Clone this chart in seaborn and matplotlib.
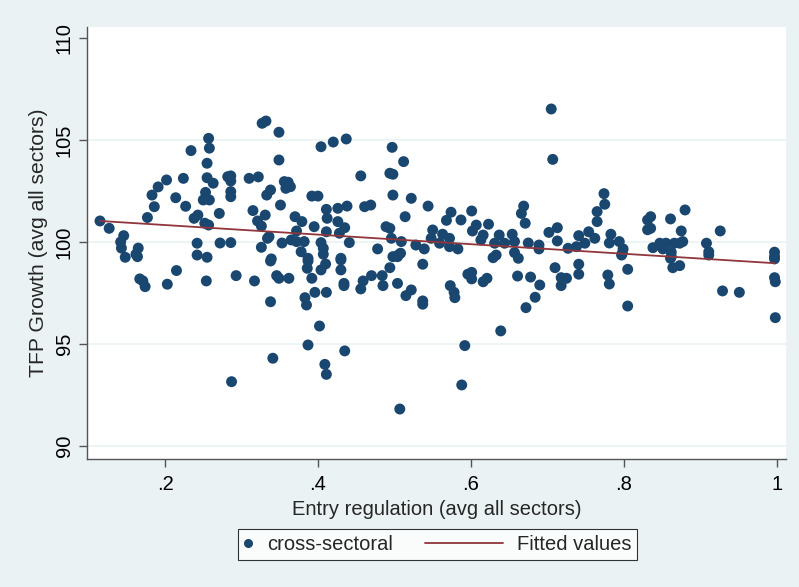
import matplotlib
matplotlib.use("Agg")
import matplotlib.pyplot as plt
import seaborn as sns
import pandas as pd
from matplotlib.lines import Line2D
from matplotlib.legend_handler import HandlerBase, HandlerLine2D

# ---- data ----
entry_reg = [
    0.115, 0.127, 0.146, 0.142, 0.143, 0.148, 0.165, 0.162, 0.177, 0.186, 0.183, 0.191, 0.202, 0.214,
    0.224, 0.227, 0.234, 0.238, 0.243, 0.250, 0.253, 0.255, 0.255, 0.258, 0.257, 0.263, 0.257, 0.252,
    0.271, 0.258, 0.242, 0.242, 0.255, 0.272, 0.282, 0.164, 0.167, 0.174, 0.171, 0.203, 0.215, 0.254,
    0.287,
    0.327, 0.332, 0.349, 0.404, 0.420, 0.437, 0.349, 0.286, 0.286, 0.286, 0.286, 0.310, 0.322, 0.333,
    0.338, 0.356, 0.361, 0.358, 0.364, 0.392, 0.400, 0.456, 0.351, 0.315, 0.331, 0.321, 0.326, 0.370,
    0.379, 0.395, 0.372, 0.411, 0.412, 0.426, 0.438, 0.426, 0.435, 0.411, 0.428, 0.461, 0.336, 0.334,
    0.365, 0.382, 0.372, 0.353, 0.404, 0.407, 0.441, 0.378, 0.326, 0.286, 0.339, 0.387, 0.407, 0.430,
    0.338, 0.293, 0.317, 0.346, 0.349, 0.362, 0.387, 0.386, 0.392, 0.404, 0.410, 0.430, 0.430, 0.434,
    0.434, 0.383, 0.385, 0.396, 0.411, 0.338, 0.459, 0.456, 0.402, 0.387, 0.341, 0.435, 0.409, 0.411,
    0.497, 0.512, 0.494, 0.498, 0.498, 0.522, 0.469, 0.544, 0.514, 0.574, 0.568, 0.587, 0.601, 0.489,
    0.494, 0.496, 0.509, 0.550, 0.548, 0.563, 0.572, 0.559, 0.572, 0.583, 0.528, 0.539, 0.478, 0.607,
    0.602, 0.623, 0.616, 0.613, 0.637, 0.631, 0.633, 0.505, 0.498, 0.508, 0.644,
    0.504, 0.537, 0.494, 0.470, 0.484, 0.485, 0.504, 0.522, 0.515, 0.537, 0.537, 0.573, 0.578, 0.579,
    0.596, 0.601, 0.601, 0.616, 0.621, 0.629, 0.639, 0.592, 0.588, 0.507,
    0.705, 0.707, 0.774, 0.775, 0.765, 0.765, 0.669, 0.666, 0.671, 0.654, 0.657, 0.675, 0.689, 0.689,
    0.657, 0.702, 0.713, 0.713, 0.727, 0.741, 0.749, 0.738, 0.754, 0.762, 0.783, 0.781, 0.794, 0.799,
    0.798, 0.831, 0.831,
    0.661, 0.678, 0.690, 0.684, 0.672, 0.710, 0.718, 0.725, 0.718, 0.741, 0.741, 0.779, 0.781, 0.805,
    0.805, 0.662, 0.797,
    0.880, 0.861, 0.835, 0.835, 0.875, 0.926, 0.877, 0.873, 0.847, 0.855, 0.866, 0.838, 0.851, 0.862,
    0.908, 0.911, 0.997, 0.997, 0.861,
    0.862, 0.864, 0.873, 0.911, 0.997, 0.997, 0.998, 0.929, 0.951, 0.998,
]
tfp_growth = [
    101.03, 100.67, 100.31, 100.00, 99.70, 99.25, 99.70, 99.40, 101.20, 101.73, 102.30, 102.70, 103.04, 102.17,
    103.12, 101.75, 104.48, 101.16, 101.32, 102.06, 102.43, 103.15, 103.86, 104.60, 105.08, 102.88, 100.83, 100.92,
    101.40, 102.06, 99.94, 99.36, 99.25, 99.95, 103.20, 99.28, 98.19, 97.81, 98.09, 97.93, 98.60, 98.09,
    93.15,
    105.82, 105.93, 105.38, 104.67, 104.90, 105.05, 104.02, 103.24, 102.99, 102.47, 102.22, 103.12, 103.19, 102.30,
    102.55, 102.96, 102.93, 102.63, 102.71, 102.25, 102.25, 103.24, 101.81, 101.54, 101.32, 101.03, 100.78, 101.24,
    101.00, 100.75, 100.54, 101.60, 101.16, 101.65, 101.76, 101.00, 100.70, 100.50, 100.43, 101.73, 100.26, 100.18,
    100.10, 100.02, 100.02, 99.95, 99.97, 99.69, 99.97, 99.52, 99.74, 99.97, 99.17, 99.20, 99.40, 99.20,
    99.07, 98.35, 98.09, 98.35, 98.22, 98.22, 99.07, 98.71, 98.22, 98.63, 98.92, 99.12, 98.63, 97.97,
    97.86, 97.27, 96.91, 97.53, 97.53, 97.07, 98.09, 97.70, 95.88, 94.95, 94.30, 94.66, 94.00, 93.51,
    104.64, 103.94, 103.37, 103.32, 102.30, 102.14, 101.81, 101.76, 101.24, 101.46, 101.06, 101.08, 101.52, 100.75,
    100.67, 100.18, 100.02, 100.59, 100.18, 100.38, 100.18, 99.94, 99.77, 99.66, 99.85, 99.66, 99.66, 100.83,
    100.54, 100.87, 100.34, 100.10, 100.34, 99.94, 99.36, 99.36, 99.28, 99.45, 99.94,
    99.28, 98.91, 98.74, 98.35, 98.35, 97.86, 97.97, 97.65, 97.37, 97.11, 96.95, 97.86, 97.53, 97.27,
    98.42, 98.51, 98.19, 98.05, 98.22, 99.23, 95.64, 94.92, 92.99, 91.81,
    106.52, 104.05, 102.37, 101.85, 101.49, 101.00, 101.76, 101.40, 100.92, 100.38, 100.02, 99.95, 99.85, 99.66,
    99.48, 100.47, 100.70, 100.05, 99.69, 100.31, 99.94, 99.77, 100.50, 100.18, 100.38, 99.95, 100.02, 99.66,
    99.45, 101.08, 100.60,
    98.33, 98.28, 97.89, 97.29, 96.78, 98.74, 98.25, 98.22, 97.86, 98.91, 98.42, 98.38, 97.94, 98.66,
    96.86, 99.20, 99.36,
    101.57, 101.13, 101.24, 100.67, 100.54, 100.54, 100.02, 99.94, 99.94, 99.94, 99.94, 99.72, 99.66, 99.50,
    99.94, 99.52, 99.50, 99.28, 99.20,
    99.28, 98.74, 98.84, 99.36, 99.17, 98.25, 98.05, 97.60, 97.53, 96.29,
]
fit_x = [0.115, 0.997]
fit_y = [101.03, 98.96]

x_ticks = [0.2, 0.4, 0.6, 0.8, 1.0]
x_tick_labels = [".2", ".4", ".6", ".8", "1"]
y_ticks = [90, 95, 100, 105, 110]
y_tick_labels = ["90", "95", "100", "105", "110"]

pts = pd.DataFrame({"x": entry_reg, "y": tfp_growth})
fit = pd.DataFrame({"x": fit_x, "y": fit_y})

# ---- styling ----
sns.set_theme(style="white")
plt.rcParams["font.family"] = ["Liberation Sans", "DejaVu Sans"]

BG = "#EAF2F3"
NAVY = "#1A476F"
MAROON = "#90353B"
FS = 14.5

fig = plt.figure(figsize=(7.99, 5.87), dpi=100, facecolor=BG)
ax = fig.add_axes([87 / 799, 1 - 459 / 587, (786 - 87) / 799, (459 - 27) / 587])
ax.set_facecolor("white")

for yv in [90, 95, 100, 105]:
    ax.axhline(yv, color=BG, lw=1.2, zorder=0)

sns.scatterplot(data=pts, x="x", y="y", ax=ax, color=NAVY, s=62, edgecolor="none",
                linewidth=0, zorder=3, legend=False)
sns.lineplot(data=fit, x="x", y="y", ax=ax, color=MAROON, lw=1.3, zorder=4, legend=False)

ax.set_xlim(0.098, 1.012)
ax.set_ylim(89.36, 110.54)
ax.set_xticks(x_ticks)
ax.set_xticklabels(x_tick_labels, fontsize=FS)
ax.set_yticks(y_ticks)
ax.set_yticklabels(y_tick_labels, fontsize=FS, rotation=90, va="center")
ax.tick_params(axis="both", direction="out", length=5.5, width=1, color="#555555",
               bottom=True, left=True, labelcolor="black")
ax.tick_params(axis="x", pad=6)
ax.tick_params(axis="y", pad=4)
ax.set_xlabel("Entry regulation (avg all sectors)", fontsize=FS, labelpad=4)
ax.set_ylabel("TFP Growth (avg all sectors)", fontsize=15.2, labelpad=5)

for side in ["top", "right"]:
    ax.spines[side].set_visible(False)
for side in ["left", "bottom"]:
    ax.spines[side].set_color("#555555")
    ax.spines[side].set_linewidth(1)


class LongLineHandler(HandlerBase):
    """Line handle that extends to the left of its (short) handle box."""
    def __init__(self, ext=3.4, **kw):
        super().__init__(**kw)
        self.ext = ext

    def create_artists(self, legend, orig_handle, xdescent, ydescent, width, height,
                       fontsize, trans):
        y = height / 2 - ydescent
        x0 = -xdescent - self.ext * fontsize
        x1 = -xdescent + width
        line = Line2D([x0, x1], [y, y], color=orig_handle.get_color(),
                      lw=orig_handle.get_linewidth())
        line.set_transform(trans)
        return [line]


h_pts = Line2D([], [], marker="o", color=NAVY, linestyle="none", markersize=5.5)
h_fit = Line2D([], [], color=MAROON, lw=1.3)
leg = fig.legend([h_pts, h_fit], ["cross-sectoral", "Fitted values"], loc="center",
                 bbox_to_anchor=(437.5 / 799, 1 - 544.5 / 587), ncol=2, frameon=True,
                 fontsize=FS, fancybox=False, edgecolor="black", facecolor="white",
                 handlelength=0.45, columnspacing=5.0, handletextpad=0.7, borderpad=0.3,
                 handler_map={h_pts: HandlerLine2D(numpoints=1), h_fit: LongLineHandler(ext=3.4)})
leg.get_frame().set_linewidth(0.8)

fig.savefig("out.png", dpi=100, facecolor=BG)
